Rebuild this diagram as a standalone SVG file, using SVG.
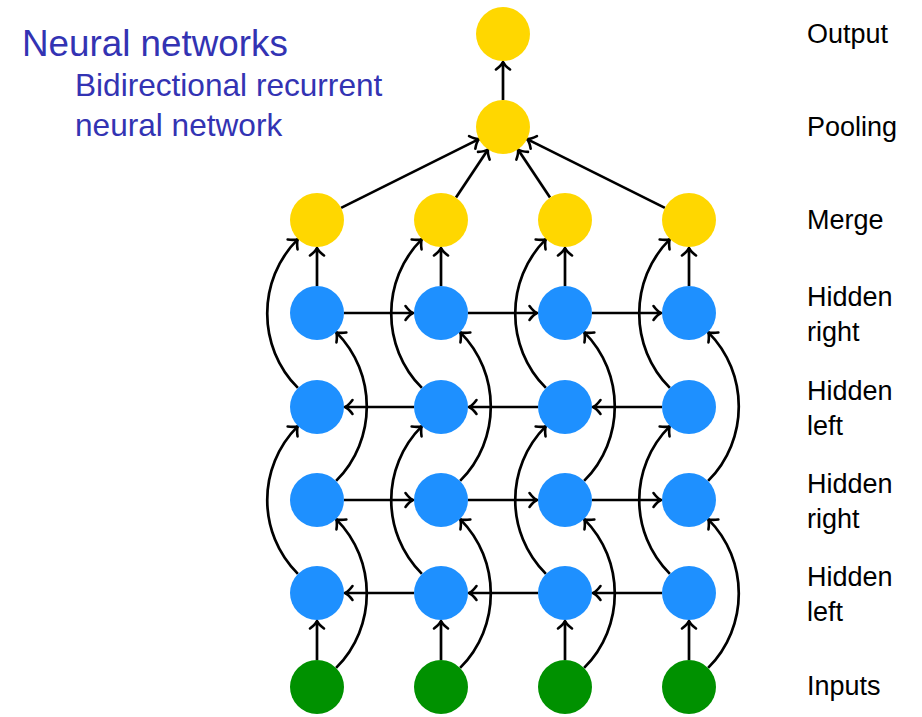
<svg xmlns="http://www.w3.org/2000/svg" width="922" height="717" viewBox="0 0 922 717">
  <defs>
    <marker id="head" markerUnits="userSpaceOnUse" markerWidth="20" markerHeight="20" viewBox="-10 -10 20 20" refX="0" refY="0" orient="auto" overflow="visible">
      <path d="M -7.5,-7 Q -3.5,-1.5 0,0 Q -3.5,1.5 -7.5,7" fill="none" stroke="#000" stroke-width="2.6" stroke-linecap="round"/>
    </marker>
  </defs>
  <style>
    .title { font-family: "Liberation Sans", Arial, sans-serif; fill: #3333b3; }
    .lbl { font-family: "Liberation Sans", Arial, sans-serif; font-size: 27px; fill: #000; }
    .yel { fill: #ffd700; }
    .blu { fill: #1e90ff; }
    .grn { fill: #009100; }
    .edge { fill: none; stroke: #000; stroke-width: 2.7; marker-end: url(#head); }
  </style>

  <rect width="922" height="717" fill="#fff"/>

  <!-- headings -->
  <text class="title" x="22" y="56" font-size="36.8">Neural networks</text>
  <text class="title" x="75" y="96" font-size="31.6">Bidirectional recurrent</text>
  <text class="title" x="75" y="136" font-size="31.6">neural network</text>

  <!-- layer labels -->
  <g id="labels">
    <text class="lbl" x="807" y="43">Output</text>
    <text class="lbl" x="807" y="136">Pooling</text>
    <text class="lbl" x="807" y="229">Merge</text>
    <text class="lbl" x="807" y="306">Hidden</text>
    <text class="lbl" x="807" y="341">right</text>
    <text class="lbl" x="807" y="400">Hidden</text>
    <text class="lbl" x="807" y="435">left</text>
    <text class="lbl" x="807" y="493">Hidden</text>
    <text class="lbl" x="807" y="528">right</text>
    <text class="lbl" x="807" y="586">Hidden</text>
    <text class="lbl" x="807" y="621">left</text>
    <text class="lbl" x="807" y="695">Inputs</text>
  </g>

  <!-- connectors -->
  <g id="connectors">
    <!-- pooling to output -->
    <path class="edge" d="M503,100 L503,62"/>
    <!-- merge to pooling -->
    <path class="edge" d="M341.1,207.9 L478.9,139.1"/>
    <path class="edge" d="M456,197.5 L488,149.5"/>
    <path class="edge" d="M550,197.5 L518,149.5"/>
    <path class="edge" d="M664.9,207.9 L527.1,139.1"/>

    <!-- inputs to first hidden-left, hidden-right to merge -->
    <path class="edge" d="M317,660 L317,621"/>
    <path class="edge" d="M441,660 L441,621"/>
    <path class="edge" d="M565,660 L565,621"/>
    <path class="edge" d="M689,660 L689,621"/>
    <path class="edge" d="M317,286 L317,248"/>
    <path class="edge" d="M441,286 L441,248"/>
    <path class="edge" d="M565,286 L565,248"/>
    <path class="edge" d="M689,286 L689,248"/>

    <!-- hidden right rows: left to right -->
    <path class="edge" d="M344,313 L413,313"/>
    <path class="edge" d="M468,313 L537,313"/>
    <path class="edge" d="M592,313 L661,313"/>
    <path class="edge" d="M344,500 L413,500"/>
    <path class="edge" d="M468,500 L537,500"/>
    <path class="edge" d="M592,500 L661,500"/>

    <!-- hidden left rows: right to left -->
    <path class="edge" d="M414,407 L345,407"/>
    <path class="edge" d="M538,407 L469,407"/>
    <path class="edge" d="M662,407 L593,407"/>
    <path class="edge" d="M414,593 L345,593"/>
    <path class="edge" d="M538,593 L469,593"/>
    <path class="edge" d="M662,593 L593,593"/>

    <!-- skip curves on the left: hidden-left to next hidden-left / merge -->
    <path class="edge" d="M297.9,573.9 C257,533 257,467 297.9,426.1"/>
    <path class="edge" d="M297.9,387.9 C257,347 257,280 297.9,239.1"/>
    <path class="edge" d="M421.9,573.9 C381,533 381,467 421.9,426.1"/>
    <path class="edge" d="M421.9,387.9 C381,347 381,280 421.9,239.1"/>
    <path class="edge" d="M545.9,573.9 C505,533 505,467 545.9,426.1"/>
    <path class="edge" d="M545.9,387.9 C505,347 505,280 545.9,239.1"/>
    <path class="edge" d="M669.9,573.9 C629,533 629,467 669.9,426.1"/>
    <path class="edge" d="M669.9,387.9 C629,347 629,280 669.9,239.1"/>

    <!-- skip curves on the right: input / hidden-right to next hidden-right -->
    <path class="edge" d="M336.1,667.9 C377,627 377,560 336.1,519.1"/>
    <path class="edge" d="M336.1,480.9 C377,440 377,373 336.1,332.1"/>
    <path class="edge" d="M460.1,667.9 C501,627 501,560 460.1,519.1"/>
    <path class="edge" d="M460.1,480.9 C501,440 501,373 460.1,332.1"/>
    <path class="edge" d="M584.1,667.9 C625,627 625,560 584.1,519.1"/>
    <path class="edge" d="M584.1,480.9 C625,440 625,373 584.1,332.1"/>
    <path class="edge" d="M708.1,667.9 C749,627 749,560 708.1,519.1"/>
    <path class="edge" d="M708.1,480.9 C749,440 749,373 708.1,332.1"/>
  </g>

  <!-- nodes -->
  <g id="output"><circle class="yel" cx="503" cy="34" r="27"/></g>
  <g id="pooling"><circle class="yel" cx="503" cy="127" r="27"/></g>

  <g id="merge1"><circle class="yel" cx="317" cy="220" r="27"/></g>
  <g id="merge2"><circle class="yel" cx="441" cy="220" r="27"/></g>
  <g id="merge3"><circle class="yel" cx="565" cy="220" r="27"/></g>
  <g id="merge4"><circle class="yel" cx="689" cy="220" r="27"/></g>

  <g id="hr2-1"><circle class="blu" cx="317" cy="313" r="27"/></g>
  <g id="hr2-2"><circle class="blu" cx="441" cy="313" r="27"/></g>
  <g id="hr2-3"><circle class="blu" cx="565" cy="313" r="27"/></g>
  <g id="hr2-4"><circle class="blu" cx="689" cy="313" r="27"/></g>

  <g id="hl2-1"><circle class="blu" cx="317" cy="407" r="27"/></g>
  <g id="hl2-2"><circle class="blu" cx="441" cy="407" r="27"/></g>
  <g id="hl2-3"><circle class="blu" cx="565" cy="407" r="27"/></g>
  <g id="hl2-4"><circle class="blu" cx="689" cy="407" r="27"/></g>

  <g id="hr1-1"><circle class="blu" cx="317" cy="500" r="27"/></g>
  <g id="hr1-2"><circle class="blu" cx="441" cy="500" r="27"/></g>
  <g id="hr1-3"><circle class="blu" cx="565" cy="500" r="27"/></g>
  <g id="hr1-4"><circle class="blu" cx="689" cy="500" r="27"/></g>

  <g id="hl1-1"><circle class="blu" cx="317" cy="593" r="27"/></g>
  <g id="hl1-2"><circle class="blu" cx="441" cy="593" r="27"/></g>
  <g id="hl1-3"><circle class="blu" cx="565" cy="593" r="27"/></g>
  <g id="hl1-4"><circle class="blu" cx="689" cy="593" r="27"/></g>

  <g id="in1"><circle class="grn" cx="317" cy="687" r="27"/></g>
  <g id="in2"><circle class="grn" cx="441" cy="687" r="27"/></g>
  <g id="in3"><circle class="grn" cx="565" cy="687" r="27"/></g>
  <g id="in4"><circle class="grn" cx="689" cy="687" r="27"/></g>
</svg>
